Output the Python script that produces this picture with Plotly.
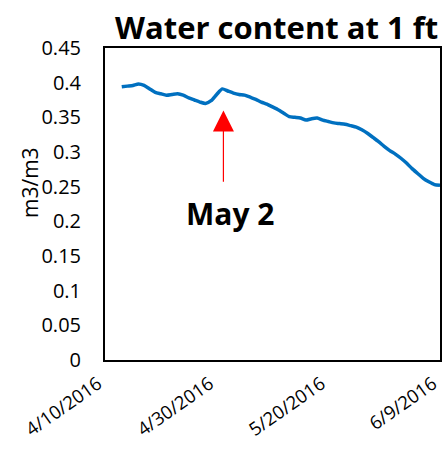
import plotly.graph_objects as go
import pandas as pd

# Data
dates = pd.date_range("2016-04-13", "2016-06-09", freq="D").strftime("%Y-%m-%d").tolist()
water_content = [
    0.394, 0.395, 0.396, 0.398, 0.396, 0.391, 0.386, 0.384, 0.382, 0.383,
    0.384, 0.382, 0.378, 0.375, 0.372, 0.370, 0.374, 0.383, 0.391, 0.388,
    0.385, 0.383, 0.382, 0.379, 0.376, 0.372, 0.369, 0.365, 0.361, 0.356,
    0.351, 0.350, 0.349, 0.346, 0.348, 0.349, 0.346, 0.344, 0.342, 0.341,
    0.340, 0.338, 0.336, 0.332, 0.327, 0.321, 0.315, 0.308, 0.302, 0.297,
    0.291, 0.284, 0.276, 0.269, 0.262, 0.257, 0.253, 0.252,
]
x_tick_vals = ["2016-04-10", "2016-04-30", "2016-05-20", "2016-06-09"]
x_tick_text = ["4/10/2016", "4/30/2016", "5/20/2016", "6/9/2016"]
y_tick_vals = [0, 0.05, 0.1, 0.15, 0.2, 0.25, 0.3, 0.35, 0.4, 0.45]
y_tick_text = ["0", "0.05", "0.1", "0.15", "0.2", "0.25", "0.3", "0.35", "0.4", "0.45"]

title_text = "Water content at 1 ft"
y_title = "m3/m3"
note_text = "May 2"
arrow_x = "2016-05-01 05:00"
arrow_tip = 0.36
arrow_tail = 0.255
note_x = "2016-05-02 10:00"
note_y = 0.212

FONT = "Open Sans"

fig = go.Figure()
fig.add_trace(go.Scatter(
    x=dates, y=water_content, mode="lines",
    line=dict(color="#0070C0", width=3.5, shape="spline", smoothing=0.6),
    showlegend=False, hoverinfo="skip",
))

fig.add_annotation(
    x=arrow_x, y=arrow_tip, ax=arrow_x, ay=arrow_tail,
    xref="x", yref="y", axref="x", ayref="y",
    text="", showarrow=True, arrowhead=2, arrowsize=3.5, arrowwidth=1.2,
    arrowcolor="#FF0000",
)
fig.add_annotation(
    x=note_x, y=note_y, xref="x", yref="y", text=note_text, showarrow=False,
    font=dict(family=FONT, size=30, color="black", weight="bold"),
)
fig.add_annotation(
    x=(276 - 105) / 335, y=(360 - 27) / 312, xref="paper", yref="paper",
    xanchor="center", yanchor="middle",
    text=title_text, showarrow=False,
    font=dict(family=FONT, size=31, color="black", weight="bold"),
)
fig.add_annotation(
    x=(30 - 105) / 335, y=(360 - 183) / 312, xref="paper", yref="paper",
    xanchor="center", yanchor="middle",
    text=y_title, showarrow=False, textangle=-90,
    font=dict(family=FONT, size=21, color="black"),
)

fig.update_layout(
    width=443, height=451,
    margin=dict(l=105, r=3, t=48, b=91),
    paper_bgcolor="white", plot_bgcolor="white",
    font=dict(family=FONT, size=20, color="black"),
    xaxis=dict(
        range=["2016-04-10", "2016-06-09"],
        tickvals=x_tick_vals, ticktext=x_tick_text, tickangle=-35,
        tickfont=dict(size=18.5), ticklabelshift=-7, ticklabelstandoff=4,
        ticklabeloverflow="allow", automargin=False,
        showgrid=False, zeroline=False, showline=True, mirror=True,
        linecolor="black", linewidth=2, ticks="",
    ),
    yaxis=dict(
        range=[0, 0.45], tickvals=y_tick_vals, ticktext=y_tick_text,
        automargin=False,
        showgrid=False, zeroline=False, showline=True, mirror=True,
        linecolor="black", linewidth=2, ticks="", ticklabelstandoff=18,
    ),
)

fig.write_html("out.html", config={"displayModeBar": False},
               post_script="document.body.style.margin='0';")
